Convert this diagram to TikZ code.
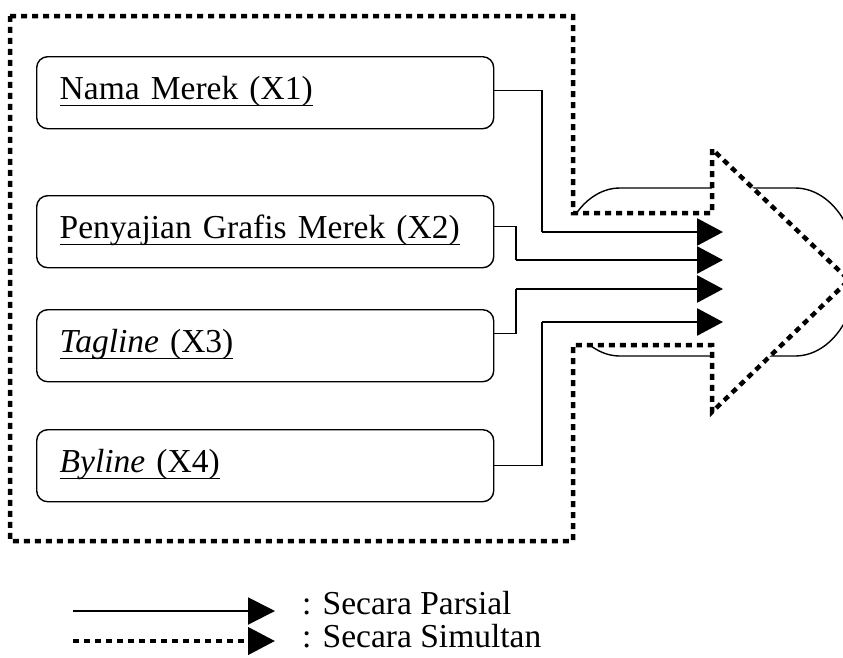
\documentclass[tikz,border=0pt]{standalone}
\usepackage{fontspec}
\setmainfont{Liberation Serif}
\usetikzlibrary{arrows.meta}

% underline set at a fixed depth below the baseline
\newcommand{\myul}[1]{\setbox0\hbox{#1}\rlap{\vrule width\wd0 height -5pt depth 6.6pt}\box0}

\tikzset{
  txt/.style={font=\fontsize{33.5}{38}\selectfont},
  varbox/.style={draw, line width=1.4pt, rounded corners=11pt, anchor=north west,
    minimum width=457pt, minimum height=72pt, inner xsep=23pt, inner ysep=0pt,
    text width=411pt, align=left, text height=23pt, text depth=9pt, txt},
  thinline/.style={line width=1.4pt},
  shaft/.style={line width=2.8pt, -{Triangle[length=26pt,width=27pt]}},
  dotline/.style={line width=4.5pt, dash pattern=on 6pt off 5pt},
  legtip/.style={-{Triangle[length=27pt,width=27pt]}},
}

\begin{document}
\begin{tikzpicture}[x=1pt, y=-1pt]
  \useasboundingbox (0,0) rectangle (843,657);
  \clip (0,0) rectangle (843,657);

  % rounded capsule behind the dotted outline
  \draw[line width=1.4pt] (620,188) -- (795,188)
    arc[start angle=-90, end angle=90, x radius=62, y radius=84]
    -- (620,356)
    arc[start angle=90, end angle=270, x radius=61, y radius=84] -- cycle;

  % dotted outline: frame around the variables ending in an arrow head
  \draw[dotline, fill=white] (10,16) -- (573,16) -- (573,213) -- (712,213)
    -- (712,149) -- (849,280) -- (712,412) -- (712,345) -- (573,345)
    -- (573,541) -- (10,541) -- cycle;

  % variable boxes
  \node[varbox] (x1) at (36,56)  {\myul{Nama Merek (X1)}};
  \node[varbox] (x2) at (36,195) {\myul{Penyajian Grafis Merek (X2)}};
  \node[varbox] (x3) at (36,309) {\myul{\textit{Tagline} (X3)}};
  \node[varbox] (x4) at (36,429) {\myul{\textit{Byline} (X4)}};

  % bends and arrow tips
  \coordinate (j1) at (542,232);
  \coordinate (j2) at (516,260);
  \coordinate (j3) at (516,289);
  \coordinate (j4) at (542,322);
  \coordinate (t1) at (723,232);
  \coordinate (t2) at (723,260);
  \coordinate (t3) at (723,289);
  \coordinate (t4) at (723,322);

  \draw[thinline] ([yshift=2pt]x1.east) -| (j1);
  \draw[thinline] ([yshift=5pt]x2.east) -| (j2);
  \draw[thinline] ([yshift=12pt]x3.east) -| (j3);
  \draw[thinline] (x4.east) -| (j4);
  \draw[shaft] (j1) -- (t1);
  \draw[shaft] (j2) -- (t2);
  \draw[shaft] (j3) -- (t3);
  \draw[shaft] (j4) -- (t4);

  % legend
  \coordinate (la) at (73,611);
  \coordinate (lb) at (275,611);
  \coordinate (lc) at (73,641);
  \coordinate (ld) at (275,641);
  \draw[line width=2pt, legtip] (la) -- (lb);
  \draw[dotline, legtip] (lc) -- (ld);
  \node[txt, anchor=base west, inner sep=0pt] (lp) at (302,614) {: Secara Parsial};
  \node[txt, anchor=base west, inner sep=0pt] (ls) at (302,647) {: Secara Simultan};
\end{tikzpicture}
\end{document}
